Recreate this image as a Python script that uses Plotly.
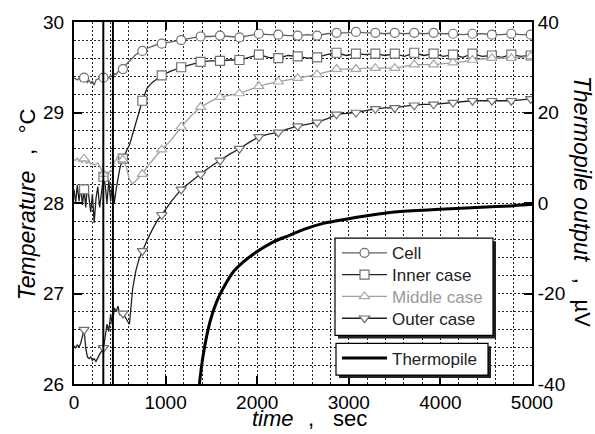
import plotly.graph_objects as go

# ---------------- data ----------------
time_s = [0, 18, 36, 55, 73, 92, 110, 128, 146, 165, 183, 201, 220, 240, 260, 280, 300, 322,
          340, 360, 380, 400, 420, 440, 460, 480, 500, 517, 534, 570, 605, 640, 675, 710, 746,
          799, 852, 905, 958, 1064, 1170, 1276, 1382, 1488, 1594, 1700, 1806, 1912, 2018, 2124,
          2230, 2336, 2442, 2548, 2654, 2760, 2866, 2972, 3078, 3184, 3290, 3396, 3502, 3608,
          3714, 3820, 3926, 4032, 4138, 4244, 4350, 4456, 4562, 4668, 4774, 4880, 4986]

marker_times = [110, 322, 534, 746, 958, 1170, 1382, 1594, 1806, 2018, 2230, 2442, 2654, 2866,
                3078, 3290, 3502, 3714, 3926, 4138, 4350, 4562, 4774, 4986]

cell = [29.38, 29.37, 29.36, 29.38, 29.35, 29.37, 29.385, 29.36, 29.33, 29.36, 29.32, 29.35, 29.30,
        29.36, 29.37, 29.38, 29.36, 29.385, 29.37, 29.40, 29.38, 29.41, 29.39, 29.43, 29.42, 29.45,
        29.46, 29.47, 29.48, 29.53, 29.57, 29.61, 29.64, 29.66, 29.68, 29.71, 29.73, 29.75, 29.76,
        29.78, 29.80, 29.82, 29.84, 29.84, 29.85, 29.84, 29.83, 29.85, 29.87, 29.86, 29.86, 29.85,
        29.85, 29.86, 29.85, 29.87, 29.88, 29.88, 29.89, 29.88, 29.88, 29.87, 29.88, 29.87, 29.88,
        29.87, 29.88, 29.87, 29.87, 29.86, 29.87, 29.87, 29.86, 29.86, 29.87, 29.86, 29.86]

inner_case = [28.15, 28.00, 28.20, 28.02, 28.18, 27.98, 28.15, 27.95, 28.20, 28.05, 27.90, 28.10,
              27.78, 28.05, 28.18, 27.95, 28.12, 28.29, 28.20, 28.00, 28.25, 28.02, 28.22, 28.00,
              28.15, 28.28, 28.38, 28.44, 28.49, 28.57, 28.64, 28.76, 28.88, 29.00, 29.13, 29.27,
              29.33, 29.37, 29.41, 29.46, 29.50, 29.53, 29.56, 29.57, 29.57, 29.58, 29.58, 29.61,
              29.64, 29.61, 29.60, 29.63, 29.62, 29.60, 29.61, 29.64, 29.66, 29.63, 29.65, 29.64,
              29.65, 29.63, 29.65, 29.62, 29.66, 29.63, 29.65, 29.62, 29.64, 29.61, 29.65, 29.62,
              29.63, 29.61, 29.64, 29.62, 29.63]

middle_case = [28.48, 28.47, 28.50, 28.46, 28.47, 28.45, 28.49, 28.45, 28.44, 28.46, 28.43, 28.44,
               28.42, 28.43, 28.44, 28.41, 28.36, 28.32, 28.34, 28.30, 28.33, 28.36, 28.35, 28.45,
               28.48, 28.52, 28.50, 28.49, 28.48, 28.40, 28.26, 28.21, 28.25, 28.29, 28.32, 28.40,
               28.47, 28.53, 28.59, 28.70, 28.84, 28.96, 29.06, 29.12, 29.17, 29.19, 29.21, 29.25,
               29.29, 29.32, 29.34, 29.36, 29.38, 29.40, 29.42, 29.45, 29.48, 29.48, 29.48, 29.49,
               29.49, 29.49, 29.49, 29.51, 29.53, 29.53, 29.53, 29.54, 29.55, 29.56, 29.58, 29.59,
               29.60, 29.60, 29.60, 29.61, 29.62]

outer_case = [26.42, 26.40, 26.43, 26.41, 26.45, 26.52, 26.60, 26.40, 26.30, 26.28, 26.30, 26.26,
              26.28, 26.25, 26.30, 26.33, 26.36, 26.40, 26.52, 26.66, 26.58, 26.77, 26.65, 26.84,
              26.80, 26.86, 26.76, 26.80, 26.78, 26.72, 26.66, 27.05, 27.25, 27.38, 27.47, 27.59,
              27.70, 27.80, 27.87, 28.02, 28.15, 28.24, 28.32, 28.40, 28.47, 28.54, 28.60, 28.67,
              28.73, 28.76, 28.78, 28.82, 28.85, 28.87, 28.89, 28.93, 28.98, 28.99, 29.00, 29.02,
              29.04, 29.05, 29.05, 29.07, 29.08, 29.09, 29.09, 29.10, 29.11, 29.12, 29.13, 29.13,
              29.13, 29.13, 29.13, 29.14, 29.15]

thermo_time = [1369, 1412, 1485, 1558, 1630, 1740, 1849, 1995, 2177, 2358, 2541, 2722, 2904,
               3231, 3500, 4000, 4500, 4800, 5000]
thermopile = [-40.0, -33.4, -26.2, -21.8, -18.8, -15.2, -13.0, -10.8, -8.6, -7.1, -5.6, -4.5,
              -3.8, -2.7, -2.0, -1.4, -0.9, -0.6, -0.3]

event_times = [320, 425]

x_ticks = [0, 1000, 2000, 3000, 4000, 5000]
y_ticks = [26, 27, 28, 29, 30]
y2_ticks = [-40, -20, 0, 20, 40]
y2_tick_labels = ["-40", "-20", "0", "20", "40"]

# ---------------- styles ----------------
FONT = "Liberation Sans"
series = [
    ("Cell", cell, "#606060", "circle", "#707070"),
    ("Inner case", inner_case, "#202020", "square", "#707070"),
    ("<span style='color:#9a9a9a'>Middle case</span>", middle_case, "#a0a0a0", "triangle-up", "#a8a8a8"),
    ("Outer case", outer_case, "#202020", "triangle-down", "#707070"),
]

# plot-area pixel geometry helpers (for legend boxes / titles)
L, R, T, B = 74, 532, 19, 384
def px(xp):
    return (xp - L) / (R - L)
def py(yp):
    return (B - yp) / (B - T)

fig = go.Figure()
mk_idx = [time_s.index(m) for m in marker_times]
legend_names = ["legend", "legend2", "legend3", "legend4"]

for (name, vals, lcol, sym, mcol), lg in zip(series, legend_names):
    fig.add_trace(go.Scatter(x=time_s, y=vals, mode="lines", line=dict(color=lcol, width=1.3),
                             showlegend=False, hoverinfo="skip"))
    fig.add_trace(go.Scatter(x=[time_s[i] for i in mk_idx], y=[vals[i] for i in mk_idx],
                             mode="markers", showlegend=False,
                             marker=dict(symbol=sym, size=9, color="white",
                                         line=dict(color=mcol, width=1.2))))
    fig.add_trace(go.Scatter(x=[None], y=[None], mode="lines+markers", name=name, legend=lg,
                             line=dict(color=lcol, width=1.3),
                             marker=dict(symbol=sym, size=9, color="white",
                                         line=dict(color=mcol, width=1.2))))

fig.add_trace(go.Scatter(x=thermo_time, y=thermopile, yaxis="y2", mode="lines",
                         line=dict(color="black", width=3, shape="spline"),
                         name="Thermopile", legend="legend5"))

for t in event_times:
    fig.add_vline(x=t, line=dict(color="black", width=2))

def box(x0, y0, x1, y1):
    fig.add_shape(type="rect", xref="paper", yref="paper", layer="above",
                  x0=px(x0 + 3), x1=px(x1 + 3), y0=py(y0 + 3), y1=py(y1 + 3),
                  fillcolor="#222", line=dict(width=0))
    fig.add_shape(type="rect", xref="paper", yref="paper", layer="above",
                  x0=px(x0), x1=px(x1), y0=py(y0), y1=py(y1),
                  fillcolor="white", line=dict(color="black", width=1.2))

box(335, 237, 493, 335)
box(336, 343, 488, 375)

grid_common = dict(gridcolor="#222", gridwidth=1, griddash="2px,2px")

def leg(top):
    return dict(x=px(337), y=py(top), xanchor="left", yanchor="top",
                bgcolor="rgba(0,0,0,0)", borderwidth=0, itemwidth=45,
                font=dict(family=FONT, size=17, color="#222"))

def title(text, xp, yp, angle=0, size=22):
    return dict(text=text, xref="paper", yref="paper", x=px(xp), y=py(yp), textangle=angle,
                showarrow=False, font=dict(size=size), xanchor="center", yanchor="middle")

fig.update_layout(
    width=595, height=434,
    margin=dict(l=L, r=595 - R, t=T, b=434 - B),
    paper_bgcolor="white", plot_bgcolor="white",
    font=dict(family=FONT, size=19, color="black"),
    xaxis=dict(range=[0, 5000], tickvals=x_ticks, showgrid=True, **grid_common,
               minor=dict(dtick=200, showgrid=True, ticks="", **grid_common),
               ticks="inside", ticklen=8, tickwidth=2, tickcolor="black",
               showline=True, linecolor="black", linewidth=2, mirror="ticks",
               zeroline=False, tickfont=dict(size=19)),
    yaxis=dict(range=[26, 30], tickvals=y_ticks, showgrid=True, **grid_common,
               minor=dict(dtick=0.2, showgrid=True, ticks="", **grid_common),
               ticks="inside", ticklen=8, tickwidth=2, tickcolor="black",
               showline=True, linecolor="black", linewidth=2, mirror=True,
               zeroline=False, tickfont=dict(size=19), ticklabelstandoff=4),
    yaxis2=dict(range=[-40, 40], tickvals=y2_ticks, ticktext=y2_tick_labels,
                overlaying="y", side="right",
                showgrid=False, zeroline=False, ticks="inside", ticklen=8, tickwidth=2,
                tickcolor="black", showline=True, linecolor="black", linewidth=2,
                tickfont=dict(size=19)),
    legend=leg(234),
    legend2=leg(256),
    legend3=leg(278),
    legend4=leg(300),
    legend5=leg(340),
    annotations=[
        title("<i>Temperature</i>", 27, 234, -90, 23),
        title(",", 27, 150, -90),
        title("°C", 27, 119, -90),
        title("<i>Thermopile output</i>", 582, 167, 90, 23),
        title(",", 582, 280, 90),
        title("µV", 582, 313, 90),
        title("<i>time</i>", 273, 419, 0, 22),
        title(",", 311, 419),
        title("sec", 350, 419),
    ],
)

fig.write_html("out.html", config={"displayModeBar": False},
               post_script="document.body.style.margin='0';document.body.style.padding='0';")
